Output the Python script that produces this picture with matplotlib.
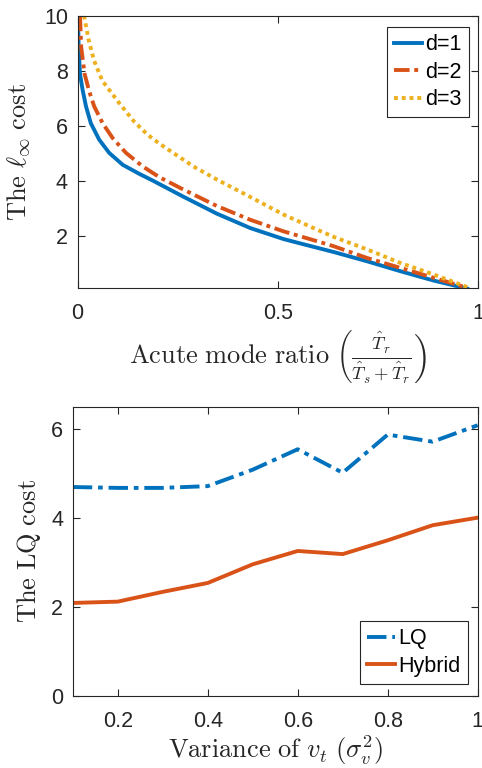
import matplotlib
matplotlib.use("Agg")
import matplotlib.pyplot as plt

# top panel: l_inf cost vs acute mode ratio
d1_x = [0.001, 0.0025, 0.006, 0.0125, 0.021, 0.033, 0.054, 0.079, 0.1125, 0.154, 0.187, 0.264, 0.348, 0.431, 0.514, 0.556, 0.639, 0.723, 0.806, 0.889, 0.9725]
d1_y = [10.0, 8.85, 7.88, 7.30, 6.70, 6.09, 5.49, 5.01, 4.58, 4.25, 4.01, 3.42, 2.80, 2.28, 1.88, 1.72, 1.41, 1.07, 0.71, 0.37, 0.08]
d2_x = [0.006, 0.009, 0.0175, 0.029, 0.0415, 0.0625, 0.0875, 0.121, 0.1625, 0.204, 0.264, 0.348, 0.431, 0.514, 0.598, 0.639, 0.723, 0.806, 0.889, 0.9725]
d2_y = [10.0, 8.85, 7.88, 7.25, 6.70, 6.09, 5.55, 5.01, 4.52, 4.13, 3.68, 3.08, 2.58, 2.16, 1.80, 1.62, 1.19, 0.83, 0.47, 0.11]
d3_x = [0.016, 0.028, 0.041, 0.0615, 0.079, 0.104, 0.141, 0.175, 0.204, 0.289, 0.348, 0.431, 0.514, 0.598, 0.639, 0.723, 0.806, 0.889, 0.977]
d3_y = [10.0, 9.09, 8.37, 7.64, 7.30, 6.82, 6.15, 5.67, 5.35, 4.52, 4.04, 3.41, 2.77, 2.22, 1.96, 1.50, 1.01, 0.59, 0.11]

# bottom panel: LQ cost vs variance
var_x = [0.1, 0.2, 0.3, 0.4, 0.5, 0.6, 0.7, 0.8, 0.9, 1.0]
lq_cost = [4.70, 4.68, 4.68, 4.72, 5.09, 5.55, 5.02, 5.88, 5.72, 6.09]
hybrid_cost = [2.09, 2.12, 2.34, 2.54, 2.96, 3.26, 3.19, 3.50, 3.84, 4.01]

blue = "#0072BD"
red = "#D95319"
yellow = "#EDB120"
txt = "#262626"
lw = 2.8

plt.rcParams["font.family"] = ["Liberation Sans", "DejaVu Sans"]
plt.rcParams["mathtext.fontset"] = "cm"
plt.rcParams["font.size"] = 15.5


def matlab_axes(ax):
    for s in ax.spines.values():
        s.set_color(txt)
        s.set_linewidth(0.8)
    ax.tick_params(direction="in", top=True, right=True, length=5, width=0.8,
                   colors=txt, labelsize=15.5)
    ax.tick_params(axis="x", pad=11)
    ax.tick_params(axis="y", pad=7)


def matlab_legend(ax, loc, anchor):
    leg = ax.legend(loc=loc, bbox_to_anchor=anchor, fancybox=False, edgecolor=txt,
                    framealpha=1, handlelength=1.3, handletextpad=0.15, borderpad=0.33,
                    labelspacing=0.3, borderaxespad=0)
    leg.get_frame().set_linewidth(0.8)
    return leg


fig = plt.figure(figsize=(4.82, 7.68), dpi=100)

ax1 = fig.add_axes([0.161, 0.625, 0.831, 0.3546])
ax1.plot(d1_x, d1_y, color=blue, lw=lw, ls="-", label="d=1")
ax1.plot(d2_x, d2_y, color=red, lw=lw, ls=(0, (4, 1.2, 1, 1.2)), label="d=2")
ax1.plot(d3_x, d3_y, color=yellow, lw=lw, ls=(0, (1, 1)), label="d=3")
ax1.set_xlim(0, 1)
ax1.set_ylim(0.1, 10)
ax1.set_xticks([0, 0.5, 1])
ax1.set_xticklabels(["0", "0.5", "1"])
ax1.set_yticks([2, 4, 6, 8, 10])
matlab_axes(ax1)
ax1.set_xlabel(r"$\mathrm{Acute\ mode\ ratio}\ \left(\frac{\hat{T}_r}{\hat{T}_s+\hat{T}_r}\right)$",
               fontsize=19, color=txt)
ax1.set_ylabel(r"$\mathrm{The}\ \ell_\infty\ \mathrm{cost}$", fontsize=19, color=txt)
ax1.yaxis.set_label_coords(-0.114, 0.5)
ax1.xaxis.set_label_coords(0.5, -0.15)
matlab_legend(ax1, "upper right", (0.977, 0.958))

ax2 = fig.add_axes([0.151, 0.094, 0.840, 0.376])
ax2.plot(var_x, lq_cost, color=blue, lw=lw, ls=(0, (5, 1.5, 1.2, 1.5)), label="LQ")
ax2.plot(var_x, hybrid_cost, color=red, lw=lw, ls="-", label="Hybrid")
ax2.set_xlim(0.1, 1)
ax2.set_ylim(0, 6.5)
ax2.set_xticks([0.2, 0.4, 0.6, 0.8, 1.0])
ax2.set_xticklabels(["0.2", "0.4", "0.6", "0.8", "1"])
ax2.set_yticks([0, 2, 4, 6])
matlab_axes(ax2)
ax2.set_xlabel(r"$\mathrm{Variance\ of}\ v_t\ (\sigma_v^2)$", fontsize=19, color=txt)
ax2.set_ylabel(r"$\mathrm{The\ LQ\ cost}$", fontsize=19, color=txt)
ax2.yaxis.set_label_coords(-0.073, 0.5)
ax2.xaxis.set_label_coords(0.5, -0.13)
matlab_legend(ax2, "lower right", (0.976, 0.0415))

fig.savefig("out.png", dpi=100)
